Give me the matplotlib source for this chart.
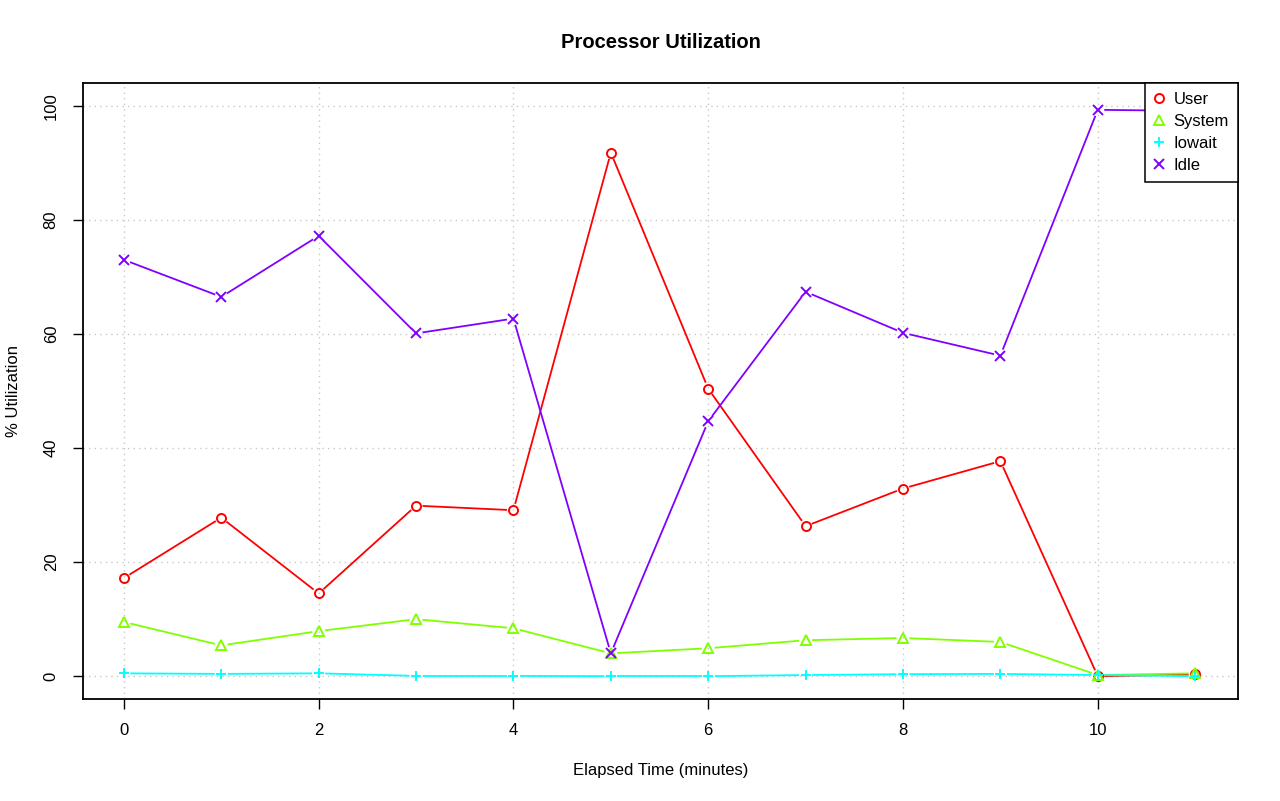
import numpy as np
import matplotlib.pyplot as plt
from matplotlib.lines import Line2D

plt.rcParams['font.family'] = ['Liberation Sans', 'DejaVu Sans']

minutes = list(range(12))
user = [17.2, 27.8, 14.5, 29.9, 29.1, 91.8, 50.4, 26.3, 32.9, 37.7, 0.0, 0.3]
system = [9.5, 5.4, 7.9, 10.0, 8.4, 4.0, 4.9, 6.3, 6.7, 6.0, 0.2, 0.5]
iowait = [0.5, 0.4, 0.5, 0.05, 0.05, 0.0, 0.0, 0.2, 0.35, 0.4, 0.2, 0.0]
idle = [73.0, 66.5, 77.2, 60.1, 62.7, 4.0, 44.7, 67.4, 60.2, 56.2, 99.3, 99.1]

series = [("User", user, "#FF0000", "o"),
          ("System", system, "#80FF00", "^"),
          ("Iowait", iowait, "#00FFFF", "+"),
          ("Idle", idle, "#8000FF", "x")]

fig = plt.figure(figsize=(12.8, 8.01), dpi=100)
ax = fig.add_axes([83 / 1280, 102 / 801, 1155 / 1280, 616 / 801])
ax.set_xlim(-0.42, 11.44)
ax.set_ylim(-4, 104)

ax.set_xticks(range(0, 11, 2))
ax.set_yticks(range(0, 101, 20))
ax.grid(True, color="#c8c8c8", linestyle=(0, (1, 3)), linewidth=1)
ax.set_axisbelow(True)

# draw like R type="b": segments stop short of the points
gap = 6.5
fig.canvas.draw()
for name, vals, col, mk in series:
    pts = ax.transData.transform(np.column_stack([minutes, vals]))
    for p, q in zip(pts[:-1], pts[1:]):
        d = q - p
        L = np.hypot(*d)
        if L <= 2 * gap:
            continue
        u = d / L
        a = ax.transData.inverted().transform([p + u * gap, q - u * gap])
        ax.plot(a[:, 0], a[:, 1], color=col, linewidth=1.3, solid_capstyle="butt")
    ax.plot(minutes, vals, linestyle="none", marker=mk, markersize=6.5,
            markerfacecolor="none", markeredgecolor=col, markeredgewidth=1.4)

for s in ax.spines.values():
    s.set_linewidth(1.3)
ax.tick_params(direction="out", length=7.5, width=1, labelsize=12, pad=10)
for lab in ax.get_yticklabels():
    lab.set_rotation(90)
    lab.set_va("center")

ax.set_title("Processor Utilization", fontsize=14.5, fontweight="bold", pad=25)
ax.set_xlabel("Elapsed Time (minutes)", fontsize=12, labelpad=18)
ax.set_ylabel("% Utilization", fontsize=12, labelpad=16)

handles = [Line2D([], [], linestyle="none", marker=mk, markersize=6.5,
                  markerfacecolor="none", markeredgecolor=col, markeredgewidth=1.4)
           for name, vals, col, mk in series]
leg = ax.legend(handles, [s[0] for s in series], loc="upper right",
                borderaxespad=0, fancybox=False, edgecolor="black", framealpha=1,
                fontsize=12, handlelength=0.6, handletextpad=0.55,
                labelspacing=0.42, borderpad=0.55)
leg.get_frame().set_linewidth(1.1)

fig.savefig("out.png", dpi=100)
